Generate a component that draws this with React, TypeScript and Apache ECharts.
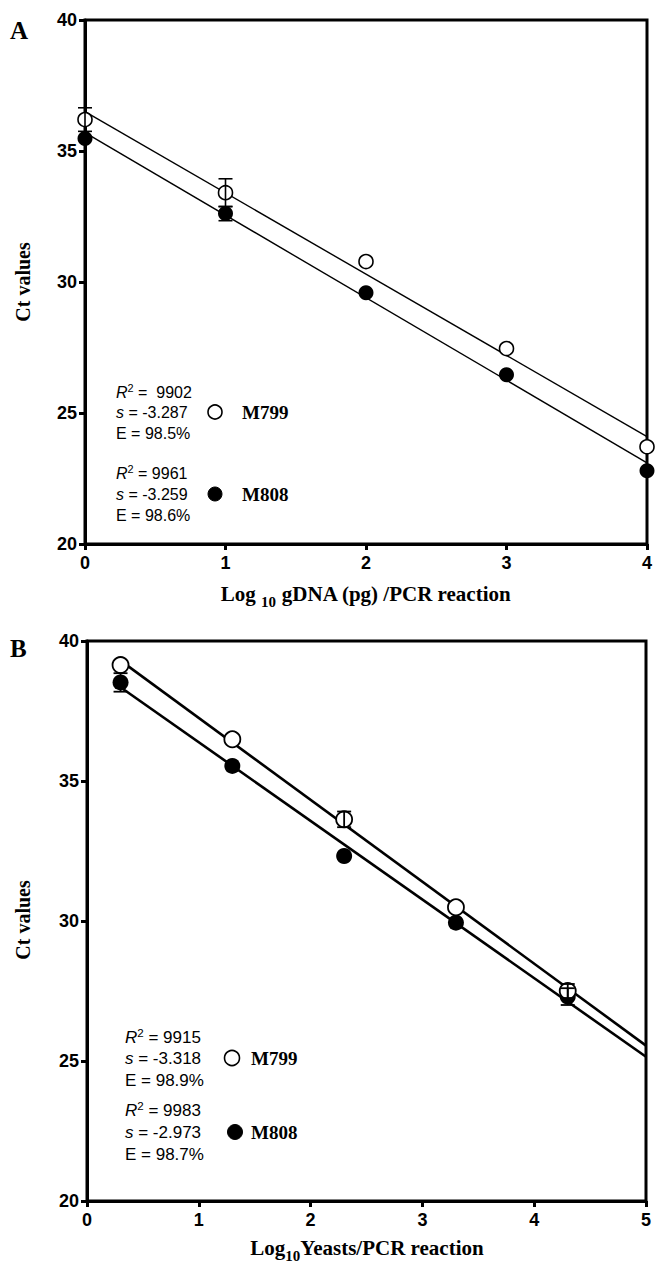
import React, { useEffect, useRef } from "react";
import * as echarts from "echarts";

// Panel A
const xA = [0, 1, 2, 3, 4];
const m799A = [36.2, 33.41, 30.78, 27.46, 23.71];
const m808A = [35.48, 32.61, 29.59, 26.46, 22.8];
const errM799A = [0.45, 0.53, 0, 0, 0];
const errM808A = [0, 0.27, 0, 0, 0];
const fitA799 = [[0, 36.5], [4, 24.1]];
const fitA808 = [[0, 35.7], [4, 23.1]];
const xTicksA = { min: 0, max: 4, interval: 1 };

// Panel B
const xB = [0.3, 1.3, 2.3, 3.3, 4.3];
const m799B = [39.14, 36.49, 33.63, 30.49, 27.5];
const m808B = [38.52, 35.54, 32.32, 29.94, 27.3];
const errM799B = [0, 0, 0.28, 0, 0.25];
const errM808B = [0.33, 0, 0, 0, 0.3];
const fitB799 = [[0.3, 39.3], [5, 25.55]];
const fitB808 = [[0.3, 38.35], [5, 25.15]];
const xTicksB = { min: 0, max: 5, interval: 1 };

const yTicks = { min: 20, max: 40, interval: 5 };

const legendA = [
  { r2: " 9902", s: "-3.287", e: "98.5%", name: "M799" },
  { r2: "9961", s: "-3.259", e: "98.6%", name: "M808" },
];
const legendB = [
  { r2: "9915", s: "-3.318", e: "98.9%", name: "M799" },
  { r2: "9983", s: "-2.973", e: "98.7%", name: "M808" },
];

const TICKFONT = "'Liberation Sans', Arial, sans-serif";
const SERIF = "'Liberation Serif', 'Times New Roman', serif";
const SANS = "'Liberation Sans', Arial, sans-serif";

function errData(xs: number[], ys: number[], es: number[]) {
  return xs
    .map((x, i) => [x, ys[i] - es[i], ys[i] + es[i]])
    .filter((d, i) => es[i] > 0);
}

function errSeries(data: number[][], idx: number, lw: number) {
  return {
    type: "custom",
    xAxisIndex: idx,
    yAxisIndex: idx,
    z: 5,
    encode: { x: 0, y: [1, 2] },
    data,
    renderItem: (params: any, api: any) => {
      const x = api.value(0);
      const lo = api.coord([x, api.value(1)]);
      const hi = api.coord([x, api.value(2)]);
      const w = 7;
      const st = { stroke: "#000", lineWidth: lw };
      return {
        type: "group",
        children: [
          { type: "line", shape: { x1: lo[0], y1: lo[1], x2: hi[0], y2: hi[1] }, style: st },
          { type: "line", shape: { x1: hi[0] - w, y1: hi[1], x2: hi[0] + w, y2: hi[1] }, style: st },
          { type: "line", shape: { x1: lo[0] - w, y1: lo[1], x2: lo[0] + w, y2: lo[1] }, style: st },
        ],
      };
    },
  };
}

function pts(xs: number[], ys: number[]) {
  return xs.map((x, i) => [x, ys[i]]);
}

function axisX(idx: number, t: { min: number; max: number; interval: number }) {
  return {
    type: "value",
    gridIndex: idx,
    min: t.min,
    max: t.max,
    interval: t.interval,
    splitLine: { show: false },
    axisLine: { show: true, lineStyle: { color: "#000", width: 3 } },
    axisTick: { show: true, length: 6, lineStyle: { color: "#000", width: 3 } },
    axisLabel: {
      color: "#000",
      fontSize: 18,
      fontWeight: "bold",
      fontFamily: TICKFONT,
      margin: 10,
    },
  };
}

function axisY(idx: number) {
  return {
    type: "value",
    gridIndex: idx,
    min: yTicks.min,
    max: yTicks.max,
    interval: yTicks.interval,
    splitLine: { show: false },
    axisLine: { show: true, lineStyle: { color: "#000", width: 3 } },
    axisTick: { show: true, length: 6, lineStyle: { color: "#000", width: 3 } },
    axisLabel: {
      color: "#000",
      fontSize: 18,
      fontWeight: "bold",
      fontFamily: TICKFONT,
      margin: 8,
    },
  };
}

function legendGraphics(
  items: typeof legendA,
  tx: number,
  ys: number[][],
  cx: number[],
  nx: number,
  fs: number,
  r: number
) {
  const out: any[] = [];
  items.forEach((it, k) => {
    const [y1, y2, y3] = ys[k];
    const rich = {
      i: { fontStyle: "italic", fontSize: fs, fontFamily: SANS, fill: "#000", lineHeight: 20 },
      n: { fontSize: fs, fontFamily: SANS, fill: "#000", lineHeight: 20 },
      sup: { fontSize: fs * 0.68, fontFamily: SANS, fill: "#000", lineHeight: 9, verticalAlign: "top" },
    };
    out.push({
      type: "text",
      x: tx,
      y: y1,
      style: { text: `{i|R}{sup|2}{n| = ${it.r2}}`, rich, verticalAlign: "middle", fill: "#000" },
    });
    out.push({
      type: "text",
      x: tx,
      y: y2,
      style: { text: `{i|s}{n| = ${it.s}}`, rich, verticalAlign: "middle", fill: "#000" },
    });
    out.push({
      type: "text",
      x: tx,
      y: y3,
      style: { text: `{n|E = ${it.e}}`, rich, verticalAlign: "middle", fill: "#000" },
    });
    out.push({
      type: "circle",
      shape: { cx: cx[k], cy: y2, r },
      style: k === 0 ? { fill: "#fff", stroke: "#000", lineWidth: 1.6 } : { fill: "#000", stroke: "#000", lineWidth: 1 },
    });
    out.push({
      type: "text",
      x: nx,
      y: y2,
      style: {
        text: it.name,
        fontSize: 19,
        fontWeight: "bold",
        fontFamily: SERIF,
        fill: "#000",
        verticalAlign: "middle",
      },
    });
  });
  return out;
}

const filled = { color: "#000", opacity: 1 };
const openA = { color: "#fff", borderColor: "#000", borderWidth: 1.6, opacity: 1 };
const openB = { color: "#fff", borderColor: "#000", borderWidth: 1.8, opacity: 1 };

export default function App() {
  const ref = useRef<HTMLDivElement>(null);
  useEffect(() => {
    const chart = echarts.init(ref.current!, null, { renderer: "svg" });
    const option: any = {
      animation: false,
      backgroundColor: "#fff",
      grid: [
        { left: 85, top: 20, width: 562, height: 524, show: true, borderColor: "#000", borderWidth: 3, backgroundColor: "transparent" },
        { left: 87, top: 641, width: 559, height: 560, show: true, borderColor: "#000", borderWidth: 3, backgroundColor: "transparent" },
      ],
      xAxis: [axisX(0, xTicksA), axisX(1, xTicksB)],
      yAxis: [axisY(0), axisY(1)],
      series: [
        { type: "line", xAxisIndex: 0, yAxisIndex: 0, data: fitA799, symbol: "none", lineStyle: { color: "#000", width: 1.4 }, z: 2 },
        { type: "line", xAxisIndex: 0, yAxisIndex: 0, data: fitA808, symbol: "none", lineStyle: { color: "#000", width: 1.4 }, z: 2 },
        { type: "scatter", xAxisIndex: 0, yAxisIndex: 0, data: pts(xA, m808A), symbol: "circle", symbolSize: 15, itemStyle: filled, z: 3 },
        { type: "scatter", xAxisIndex: 0, yAxisIndex: 0, data: pts(xA, m799A), symbol: "circle", symbolSize: 14, itemStyle: openA, z: 4 },
        errSeries(errData(xA, m799A, errM799A), 0, 1.6),
        errSeries(errData(xA, m808A, errM808A), 0, 1.6),

        { type: "line", xAxisIndex: 1, yAxisIndex: 1, data: fitB799, symbol: "none", lineStyle: { color: "#000", width: 2.6 }, z: 2 },
        { type: "line", xAxisIndex: 1, yAxisIndex: 1, data: fitB808, symbol: "none", lineStyle: { color: "#000", width: 2.6 }, z: 2 },
        { type: "scatter", xAxisIndex: 1, yAxisIndex: 1, data: pts(xB, m808B), symbol: "circle", symbolSize: 16, itemStyle: filled, z: 3 },
        { type: "scatter", xAxisIndex: 1, yAxisIndex: 1, data: pts(xB, m799B), symbol: "circle", symbolSize: 16, itemStyle: openB, z: 4 },
        errSeries(errData(xB, m799B, errM799B), 1, 1.8),
        errSeries(errData(xB, m808B, errM808B), 1, 1.8),
      ],
      graphic: [
        { type: "text", x: 10, y: 30, style: { text: "A", fontSize: 25, fontWeight: "bold", fontFamily: SERIF, fill: "#000", verticalAlign: "middle" } },
        { type: "text", x: 10, y: 648, style: { text: "B", fontSize: 25, fontWeight: "bold", fontFamily: SERIF, fill: "#000", verticalAlign: "middle" } },
        { type: "text", x: 23, y: 282, rotation: Math.PI / 2, style: { text: "Ct values", fontSize: 20, fontWeight: "bold", fontFamily: SERIF, fill: "#000", align: "center", verticalAlign: "middle" } },
        { type: "text", x: 23, y: 920, rotation: Math.PI / 2, style: { text: "Ct values", fontSize: 20, fontWeight: "bold", fontFamily: SERIF, fill: "#000", align: "center", verticalAlign: "middle" } },
        {
          type: "text",
          x: 366,
          y: 594,
          style: {
            text: "{a|Log }{s|10}{a| gDNA (pg) /PCR reaction}",
            align: "center",
            verticalAlign: "middle",
            rich: {
              a: { fontSize: 21, fontWeight: "bold", fontFamily: SERIF, fill: "#000", lineHeight: 30 },
              s: { fontSize: 15, fontWeight: "bold", fontFamily: SERIF, fill: "#000", lineHeight: 10, verticalAlign: "bottom" },
            },
          },
        },
        {
          type: "text",
          x: 367,
          y: 1248,
          style: {
            text: "{a|Log}{s|10}{a|Yeasts/PCR reaction}",
            align: "center",
            verticalAlign: "middle",
            rich: {
              a: { fontSize: 21, fontWeight: "bold", fontFamily: SERIF, fill: "#000", lineHeight: 30 },
              s: { fontSize: 15, fontWeight: "bold", fontFamily: SERIF, fill: "#000", lineHeight: 10, verticalAlign: "bottom" },
            },
          },
        },
        ...legendGraphics(legendA, 116, [[392, 412, 433], [473, 494, 515]], [215, 215], 242, 16, 7),
        ...legendGraphics(legendB, 125, [[1037, 1058, 1080], [1110, 1132, 1154]], [232, 235], 251, 17, 7.5),
      ],
    };
    chart.setOption(option);
    return () => chart.dispose();
  }, []);
  return (
    <div
      ref={ref}
      style={{ position: "absolute", left: 0, top: 0, width: 665, height: 1267, background: "#fff" }}
    />
  );
}
